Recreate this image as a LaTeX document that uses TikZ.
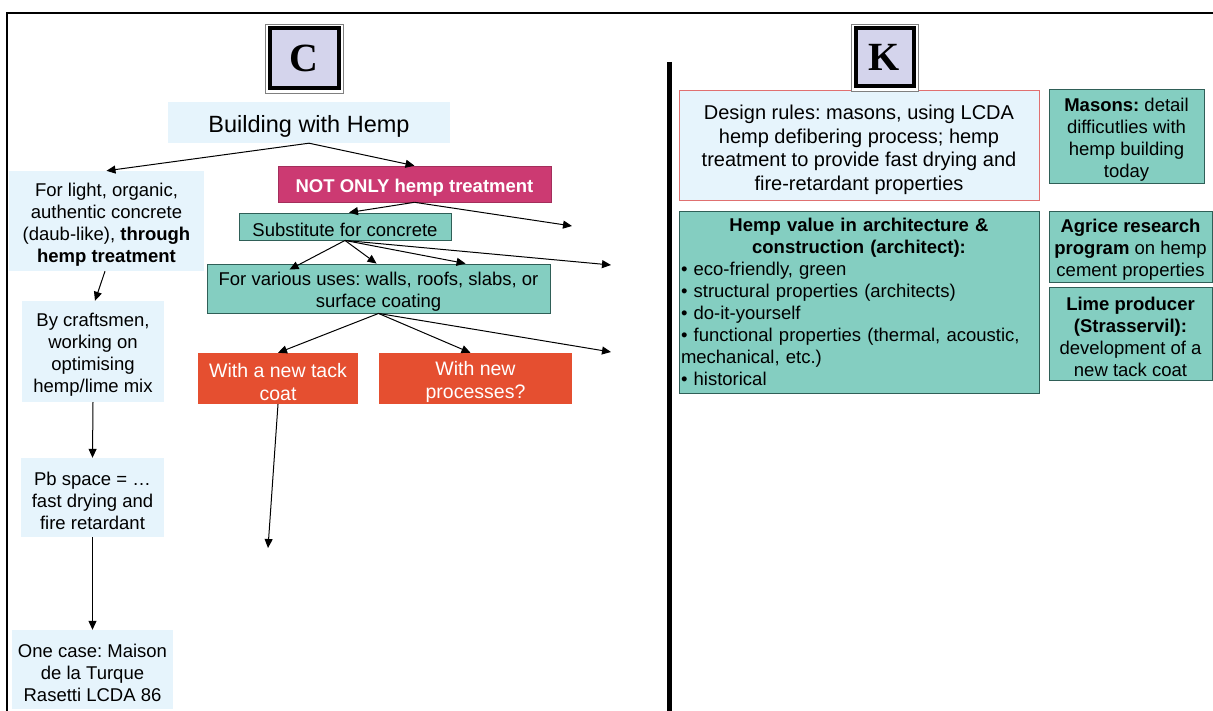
\documentclass[tikz,border=0pt]{standalone}
\usepackage{fontspec}
\setmainfont{Liberation Sans}
\newfontfamily\timesf{Liberation Serif}
\usetikzlibrary{arrows.meta}
\definecolor{lblue}{HTML}{E6F4FC}
\definecolor{tealc}{HTML}{84CEC1}
\definecolor{tealb}{HTML}{2F5F57}
\definecolor{magc}{HTML}{CC3A72}
\definecolor{orgc}{HTML}{E54F30}
\definecolor{lav}{HTML}{D4D4EC}
\definecolor{redb}{HTML}{E07070}
\newcommand{\tstrut}{\rule{0pt}{1.1em}}
\begin{document}
\frenchspacing
\begin{tikzpicture}[x=1pt,y=-1pt,
  box/.style={inner sep=0pt, align=center, font=\fontsize{18.5}{22}\selectfont, execute at begin node={\frenchspacing}},
  lbbox/.style={box, fill=lblue},
  tlbox/.style={box, fill=tealc, draw=tealb, line width=0.9pt},
  mgbox/.style={box, fill=magc, draw=magc!80!black, line width=0.6pt, text=white, font=\fontsize{18.5}{22}\selectfont\bfseries},
  orbox/.style={box, fill=orgc, text=white, font=\fontsize{19.5}{23}\selectfont},
  letterout/.style={draw=gray, line width=0.8pt, fill=white, inner sep=0pt},
  letterin/.style={draw=black, line width=4pt, fill=lav, inner sep=0pt, font=\fontsize{40}{40}\selectfont\timesf\bfseries},
  arr/.style={-{Triangle[length=9pt,width=8pt]}, line width=1pt}
]
\useasboundingbox (0,0) rectangle (1213,711);
% frame
\draw[line width=2.5pt] (7,711) -- (7,13) -- (1213,13);
\draw[line width=5pt] (669,62) -- (669,711);

% letter boxes
\node[letterout, minimum width=78pt, minimum height=69pt] (cout) at (304,58.5) {};
\node[letterin, minimum width=69pt, minimum height=60pt] (cl) at (304,58.5) {C};

% left side nodes
\node[lbbox, minimum width=282pt, minimum height=41pt, font=\fontsize{23.5}{26}\selectfont] (bwh) at (309,122.5) {\tstrut Building with Hemp};
\node[lbbox, minimum width=195pt, minimum height=100pt] (light) at (106.5,221) {\tstrut For light, organic,\\ authentic concrete\\ (daub-like), \textbf{through}\\ \textbf{hemp treatment}};
\node[mgbox, minimum width=273pt, minimum height=36pt] (notonly) at (414.5,184) {\tstrut NOT ONLY hemp treatment};
\node[tlbox, minimum width=212pt, minimum height=27pt] (sub) at (345,226.5) {\tstrut Substitute for concrete};
\node[tlbox, minimum width=343pt, minimum height=49pt] (various) at (378.5,288.5) {\tstrut For various uses: walls, roofs, slabs, or\\ surface coating};
\node[orbox, minimum width=160pt, minimum height=51pt] (tack) at (278,378.5) {\tstrut With a new tack\\ coat};
\node[orbox, minimum width=193pt, minimum height=51pt] (proc) at (475.5,378.5) {\tstrut With new\\ processes?};
\node[lbbox, minimum width=142pt, minimum height=101pt] (craft) at (93,351.5) {\tstrut By craftsmen,\\ working on\\ optimising\\ hemp/lime mix};
\node[lbbox, minimum width=143pt, minimum height=79pt] (pb) at (92.5,497.5) {\tstrut Pb space = \dots\\ fast drying and\\ fire retardant};
\node[lbbox, minimum width=161pt, minimum height=79pt] (onecase) at (92.5,669.5) {\tstrut One case: Maison\\ de la Turque\\ Rasetti LCDA 86};

\coordinate (f1) at (572,226);
\coordinate (f2) at (611,265);
\coordinate (f3) at (611,352);
\coordinate (f4) at (268,548);

% left side connectors
\draw[arr] (bwh.south) -- (light.north);
\draw[arr] (bwh.south) -- (notonly.north);
\draw[arr] (notonly.south) -- ([xshift=4pt]sub.north);
\draw[arr] (notonly.south) -- (f1);
\draw[arr] (sub.south) -- ([xshift=83pt,yshift=-6pt]various.north west);
\draw[arr] (sub.south) -- ([xshift=170pt]various.north west);
\draw[arr] (sub.south) -- ([xshift=259pt]various.north west);
\draw[arr] (sub.south) -- (f2);
\draw[arr] (various.south) -- (tack.north);
\draw[arr] (various.south) -- ([xshift=-5pt]proc.north);
\draw[arr] (various.south) -- (f3);
\draw[arr] (tack.south) -- (f4);
\draw[arr] ([xshift=-1.5pt]light.south) -- ([xshift=2pt]craft.north);
\draw[arr] (craft.south) -- (pb.north);
\draw[arr] (pb.south) -- (onecase.north);

% right side
\node[box, fill=lblue, draw=redb, line width=1pt, minimum width=360pt, minimum height=110pt, font=\fontsize{20}{23.4}\selectfont] (design) at (859,146) {\tstrut Design rules: masons, using LCDA\\ hemp defibering process; hemp\\ treatment to provide fast drying and\\ fire-retardant properties};
\node[letterout, minimum width=67pt, minimum height=67pt] (kout) at (884.5,57.5) {};
\node[letterin, minimum width=58pt, minimum height=58pt] (kl) at (884.5,57.5) {K};
\node[tlbox, minimum width=155pt, minimum height=94pt] (masons) at (1126.5,136) {\tstrut\textbf{Masons:} detail\\ difficutlies with\\ hemp building\\ today};
\node[tlbox, minimum width=360pt, minimum height=182pt, text width=356pt, align=left] (hval) at (859,302) {\centering\textbf{Hemp value in architecture \&}\\ \textbf{construction (architect):}\par\raggedright
• eco-friendly, green\\
• structural properties (architects)\\
• do-it-yourself\\
• functional properties (thermal, acoustic,\\
mechanical, etc.)\\
• historical};
\node[tlbox, minimum width=163pt, minimum height=71pt] (agrice) at (1130.5,246.5) {\tstrut\textbf{Agrice research}\\ \textbf{program} on hemp\\ cement properties};
\node[tlbox, minimum width=163pt, minimum height=93pt] (lime) at (1130.5,333.5) {\tstrut\textbf{Lime producer}\\ \textbf{(Strasservil):}\\ development of a\\ new tack coat};
\end{tikzpicture}
\end{document}
